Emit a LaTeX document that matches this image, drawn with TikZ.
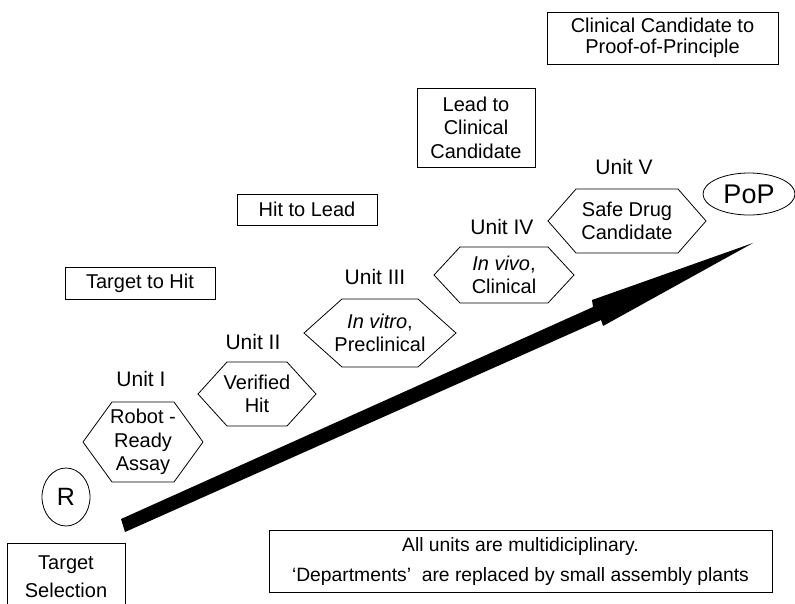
\documentclass[tikz,border=0pt]{standalone}
\usepackage{fontspec}
\setmainfont{Liberation Sans}
\usetikzlibrary{shapes.geometric}

% hexagonal unit node: name, centre, half width, half height, half top edge, text
\newcommand\unithex[6]{%
  \node[txt] (#1) at #2 {#6};
  \draw[outline] ([shift={(-#3,0)}]#1.center) -- ([shift={(-#5,-#4)}]#1.center)
    -- ([shift={(#5,-#4)}]#1.center) -- ([shift={(#3,0)}]#1.center)
    -- ([shift={(#5,#4)}]#1.center) -- ([shift={(-#5,#4)}]#1.center) -- cycle;
}

\begin{document}
\begin{tikzpicture}[x=1pt,y=-1pt,
  outline/.style={line width=0.8pt},
  txt/.style={font=\fontsize{20}{23.5}\selectfont, align=center, inner sep=0pt},
  stagebox/.style={txt, draw, outline, rectangle},
  unitlabel/.style={font=\fontsize{21}{25}\selectfont, inner sep=0pt},
  endpoint/.style={draw, outline, ellipse, inner sep=0pt},
]
\useasboundingbox (0,0) rectangle (795,603);
\clip (0,0) rectangle (795,603);

% stage boxes
\node[stagebox, minimum width=150, minimum height=32] (t2h) at (140,283) {Target to Hit};
\node[stagebox, minimum width=140, minimum height=31] (h2l) at (307,209.5) {Hit to Lead};
\node[stagebox, minimum width=118, minimum height=79] (l2c) at (476,127.5) {Lead to\\Clinical\\Candidate};
\node[stagebox, minimum width=231, minimum height=52, font=\fontsize{20}{21.5}\selectfont] (c2p) at (662.5,38) {Clinical Candidate to\\Proof-of-Principle};
\node[stagebox, minimum width=118, minimum height=68, font=\fontsize{20}{28}\selectfont] (tsel) at (66,577) {Target\\Selection};
\node[stagebox, minimum width=503, minimum height=62, font=\fontsize{19.3}{30}\selectfont] (note) at (520.5,561)
  {All units are multidiciplinary.\\`Departments'\ \ are replaced by small assembly plants};

% start and end points
\node[endpoint, minimum width=48, minimum height=58, font=\fontsize{25}{30}\selectfont] (R) at (66,497) {R};
\node[endpoint, minimum width=92, minimum height=42, font=\fontsize{27}{30}\selectfont] (PoP) at (749,194) {PoP};

% units
\unithex{u1}{(143,442)}{60}{40}{31}{Robot -\\Ready\\Assay}
\unithex{u2}{(257,394)}{59}{32}{30}{Verified\\Hit}
\unithex{u3}{(380,333)}{76}{34}{38}{\textit{In vitro},\\Preclinical}
\unithex{u4}{(504,275)}{70}{28}{44}{\textit{In vivo},\\Clinical}
\unithex{u5}{(627,221)}{79}{32}{51}{Safe Drug\\Candidate}

\node[unitlabel] (l1) at (141,379) {Unit I};
\node[unitlabel] (l2) at (253,342) {Unit II};
\node[unitlabel] (l3) at (375,277) {Unit III};
\node[unitlabel] (l4) at (502,227) {Unit IV};
\node[unitlabel] (l5) at (624,167) {Unit V};

% progress arrow
\coordinate (s1) at (121,519);
\coordinate (s2) at (125,532);
\coordinate (n1) at (593,307);
\coordinate (n2) at (601,320);
\coordinate (b1) at (592,300);
\coordinate (b2) at (603,326);
\coordinate (tip) at (753,243);
\fill (s1) -- (n1) -- (b1) -- (tip) -- (b2) -- (n2) -- (s2) -- cycle;
\end{tikzpicture}
\end{document}
